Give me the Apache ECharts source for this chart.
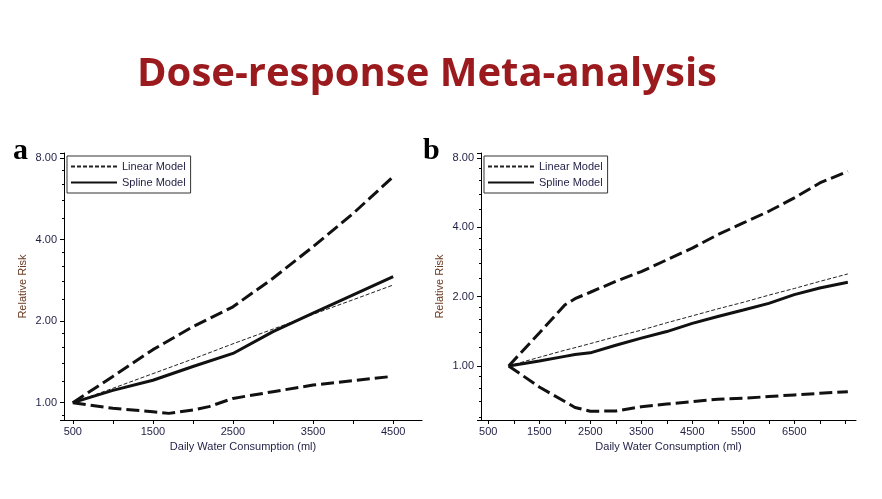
<!DOCTYPE html>
<html>
<head>
<meta charset="utf-8">
<script src="https://cdn.jsdelivr.net/npm/echarts@6/dist/echarts.min.js"></script>
<style>
html,body{margin:0;padding:0;background:#fff;}
#main{width:882px;height:499px;}
</style>
</head>
<body>
<div id="main"></div>
<script>
// panel a
var doseA = [500, 1000, 1500, 2000, 2500, 3000, 3500, 4000, 4500];
var linearA = [1.0, 1.13, 1.28, 1.45, 1.65, 1.87, 2.12, 2.40, 2.72];
var splineA = [1.0, 1.11, 1.21, 1.36, 1.52, 1.83, 2.14, 2.50, 2.92];
var upperA = [1.0, 1.25, 1.57, 1.91, 2.26, 2.88, 3.77, 5.0, 6.83];
var doseLowerA = [500, 1000, 1500, 1700, 2000, 2200, 2500, 3000, 3500, 4000, 4450];
var lowerA = [1.0, 0.953, 0.926, 0.913, 0.94, 0.967, 1.037, 1.098, 1.162, 1.206, 1.247];
var xLabelsA = [500, 1500, 2500, 3500, 4500];
var xTicksA = [500, 1000, 1500, 2000, 2500, 3000, 3500, 4000, 4500];

// panel b
var doseB = [900, 1500, 2000, 2200, 2500, 3000, 3500, 4000, 4500, 5000, 5500, 6000, 6500, 7000, 7550];
var linearB = [1.0, 1.09, 1.17, 1.20, 1.25, 1.34, 1.43, 1.54, 1.65, 1.77, 1.89, 2.03, 2.17, 2.33, 2.51];
var splineB = [1.0, 1.05, 1.10, 1.12, 1.14, 1.23, 1.32, 1.41, 1.53, 1.64, 1.75, 1.87, 2.04, 2.18, 2.31];
var upperB = [1.0, 1.39, 1.84, 1.96, 2.09, 2.33, 2.57, 2.89, 3.25, 3.72, 4.18, 4.70, 5.37, 6.24, 7.01];
var lowerB = [1.0, 0.81, 0.70, 0.66, 0.635, 0.637, 0.665, 0.683, 0.70, 0.716, 0.723, 0.736, 0.748, 0.76, 0.773];
var xLabelsB = [500, 1500, 2500, 3500, 4500, 5500, 6500];
var xTicksB = [500, 1000, 1500, 2000, 2500, 3000, 3500, 4000, 4500, 5000, 5500, 6000, 6500, 7000, 7500];

var yLabels = [1, 2, 4, 8];

function zip(xs, ys) {
	return xs.map(function (x, i) { return [x, ys[i]]; });
}

var tickColor = '#1f1f45';
var font = 'Liberation Sans, Arial, sans-serif';

function xAxisOf(idx, min, max, labels, ticks) {
	return {
		type: 'value',
		gridIndex: idx,
		min: min,
		max: max,
		name: 'Daily Water Consumption (ml)',
		nameLocation: 'middle',
		nameGap: 17,
		nameTextStyle: { color: '#1f1f45', fontSize: 11, fontFamily: font },
		axisLine: { lineStyle: { color: '#000', width: 1 } },
		axisTick: { customValues: ticks, length: 4, lineStyle: { color: '#000' } },
		axisLabel: {
			customValues: labels, margin: 6, color: tickColor, fontSize: 11, fontFamily: font,
			formatter: function (v) { return String(v); }
		},
		splitLine: { show: false }
	};
}

function yAxisOf(idx, min, max) {
	return {
		type: 'log',
		logBase: 2,
		gridIndex: idx,
		min: min,
		max: max,
		name: 'Relative Risk',
		nameLocation: 'middle',
		nameGap: 36,
		nameTextStyle: { color: '#6b3a22', fontSize: 11, fontFamily: font },
		axisLine: { show: true, lineStyle: { color: '#000', width: 1 } },
		axisTick: { show: true, length: 4, lineStyle: { color: '#000' } },
		minorTick: { show: true, splitNumber: 5, length: 2, lineStyle: { color: '#000' } },
		axisLabel: {
			margin: 7, color: tickColor, fontSize: 11, fontFamily: font,
			showMinLabel: false, showMaxLabel: false,
			formatter: function (v) {
				for (var i = 0; i < yLabels.length; i++) {
					if (Math.abs(v - yLabels[i]) < 1e-6) return yLabels[i].toFixed(2);
				}
				return '';
			}
		},
		splitLine: { show: false }
	};
}

function lines(idx, linear, spline, upper, lower) {
	var ciStyle = { color: '#111', width: 3, type: [13, 5] };
	return [
		{ name: 'Linear Model', type: 'line', xAxisIndex: idx, yAxisIndex: idx, data: linear, symbol: 'none',
			itemStyle: { color: '#222' },
			lineStyle: { color: '#222', width: 1, type: [4, 2] }, z: 3 },
		{ name: 'Spline Model', type: 'line', xAxisIndex: idx, yAxisIndex: idx, data: spline, symbol: 'none',
			itemStyle: { color: '#111' },
			lineStyle: { color: '#111', width: 3 }, z: 4 },
		{ name: 'upper', type: 'line', xAxisIndex: idx, yAxisIndex: idx, data: upper, symbol: 'none',
			lineStyle: ciStyle, z: 2 },
		{ name: 'lower', type: 'line', xAxisIndex: idx, yAxisIndex: idx, data: lower, symbol: 'none',
			lineStyle: ciStyle, z: 2 }
	];
}

function legendAt(left) {
	return {
		data: ['Linear Model', 'Spline Model'],
		orient: 'vertical',
		left: left,
		top: 156,
		padding: [5, 5, 5, 3],
		itemWidth: 46,
		itemHeight: 10,
		itemGap: 5,
		borderColor: '#333',
		borderWidth: 1,
		backgroundColor: '#fff',
		itemStyle: { opacity: 0 },
		textStyle: { color: '#1f1f45', fontSize: 11, fontFamily: font }
	};
}

var chart = echarts.init(document.getElementById('main'));
var option = {
	backgroundColor: '#fff',
	animation: false,
	title: [
		{ text: 'Dose-response Meta-analysis', left: 137, top: 55, padding: 0,
			textStyle: { color: '#9b1a1e', fontSize: 40, fontWeight: 'bold', fontFamily: 'Open Sans, Lato, sans-serif' } },
		{ text: 'a', left: 13, top: 136, padding: 0,
			textStyle: { color: '#000', fontSize: 30, fontWeight: 'bold', fontFamily: 'Liberation Serif, serif' } },
		{ text: 'b', left: 423, top: 136, padding: 0,
			textStyle: { color: '#000', fontSize: 30, fontWeight: 'bold', fontFamily: 'Liberation Serif, serif' } }
	],
	legend: [legendAt(67), legendAt(484)],
	grid: [
		{ left: 64, top: 153, width: 358, height: 267 },
		{ left: 481, top: 153, width: 375, height: 267 }
	],
	xAxis: [
		xAxisOf(0, 390, 4860, xLabelsA, xTicksA),
		xAxisOf(1, 357, 7710, xLabelsB, xTicksB)
	],
	yAxis: [
		yAxisOf(0, 0.863, 8.36),
		yAxisOf(1, 0.582, 8.42)
	],
	series: [].concat(
		lines(0, zip(doseA, linearA), zip(doseA, splineA), zip(doseA, upperA), zip(doseLowerA, lowerA)),
		lines(1, zip(doseB, linearB), zip(doseB, splineB), zip(doseB, upperB), zip(doseB, lowerB))
	)
};
chart.setOption(option);
</script>
</body>
</html>
